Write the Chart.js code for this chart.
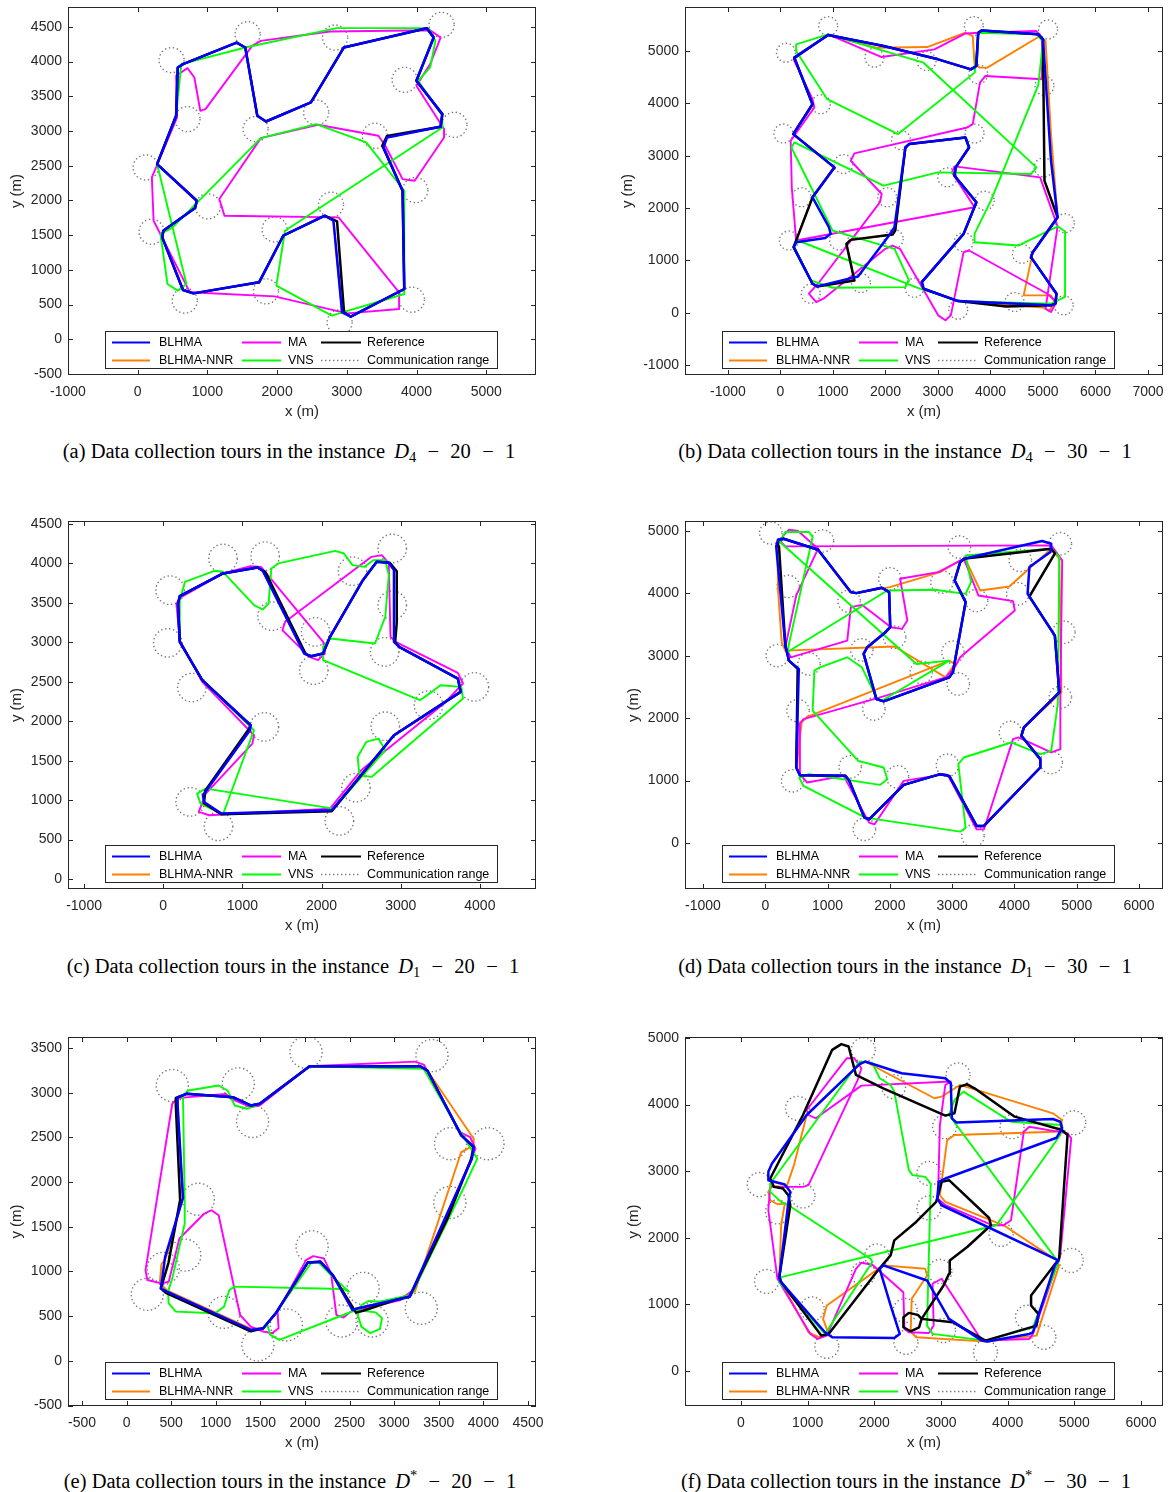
<!DOCTYPE html>
<html>
<head>
<meta charset="utf-8">
<script src="https://cdn.jsdelivr.net/npm/chart.js@4.4.0/dist/chart.umd.min.js"></script>
<style>
body{margin:0;background:#fff;width:1171px;height:1492px;overflow:hidden;position:relative;}
canvas{position:absolute;}
.cap{position:absolute;transform:translate(-50%,-50%);white-space:nowrap;font-family:"Liberation Serif","Times New Roman",serif;font-size:20.5px;color:#000;}
.cap sub{font-size:14.5px;vertical-align:-4px;line-height:0;}
.cap sup{font-size:14.5px;vertical-align:8px;line-height:0;}
.cap .op{margin:0 0.55em;}
.cap i{margin-left:0.2em;}
</style>
</head>
<body>
<canvas id="cA"></canvas><canvas id="cB"></canvas>
<canvas id="cC"></canvas><canvas id="cD"></canvas>
<canvas id="cE"></canvas><canvas id="cF"></canvas>
<div class="cap" style="left:289px;top:451px">(a) Data collection tours in the instance <i>D</i><sub>4</sub><span class="op">&minus;</span>20<span class="op">&minus;</span>1</div>
<div class="cap" style="left:905px;top:451px">(b) Data collection tours in the instance <i>D</i><sub>4</sub><span class="op">&minus;</span>30<span class="op">&minus;</span>1</div>
<div class="cap" style="left:293px;top:966px">(c) Data collection tours in the instance <i>D</i><sub>1</sub><span class="op">&minus;</span>20<span class="op">&minus;</span>1</div>
<div class="cap" style="left:905px;top:966px">(d) Data collection tours in the instance <i>D</i><sub>1</sub><span class="op">&minus;</span>30<span class="op">&minus;</span>1</div>
<div class="cap" style="left:290px;top:1481px">(e) Data collection tours in the instance <i>D</i><sup>*</sup><span class="op">&minus;</span>20<span class="op">&minus;</span>1</div>
<div class="cap" style="left:906px;top:1481px">(f) Data collection tours in the instance <i>D</i><sup>*</sup><span class="op">&minus;</span>30<span class="op">&minus;</span>1</div>
<script>
// ---------- (a) D4-20-1 ----------
var xTicksA = [-1000, 0, 1000, 2000, 3000, 4000, 5000];
var yTicksA = [-500, 0, 500, 1000, 1500, 2000, 2500, 3000, 3500, 4000, 4500];
var xLimA = [-1000, 5714];
var yLimA = [-514, 4787];
var sensorsA = [[1577,4395],[2832,4347],[4360,4530],[486,4021],[3829,3738],[714,3172],[2560,3268],[1691,3028],[3403,2932],[4544,3090],[114,2476],[3983,2150],[1007,1915],[2773,1939],[198,1550],[1964,1583],[675,557],[1840,691],[3934,571],[2897,245]];
var blhmaA = [[650,3964],[1419,4275],[1543,4203],[1716,3220],[1840,3138],[2485,3412],[2956,4203],[4147,4482],[4246,4347],[3998,3724],[4370,3244],[4345,3061],[3576,2908],[3527,2764],[3800,2140],[3824,725],[3056,326],[2932,389],[2808,1708],[2684,1780],[2088,1492],[1741,821],[799,662],[650,710],[352,1468],[367,1564],[823,1891],[848,1996],[278,2524],[551,3220],[575,3916]];
var nnrA = blhmaA;
var refA = [[650,3964],[1419,4275],[1543,4203],[1716,3220],[1840,3138],[2485,3412],[2956,4203],[4147,4482],[4246,4347],[3998,3724],[4370,3244],[4345,3061],[3576,2930],[3510,2790],[3800,2140],[3824,725],[3056,326],[2960,390],[2860,1700],[2684,1780],[2088,1492],[1741,821],[799,662],[650,710],[352,1468],[367,1564],[823,1891],[848,1996],[278,2524],[551,3220],[575,3916]];
var maA = [[1766,4299],[2758,4434],[4196,4453],[4345,4347],[4196,3964],[3998,3652],[4395,3028],[4395,2908],[3973,2284],[3800,2308],[3552,2788],[3452,2932],[2584,3090],[1766,2898],[1171,2020],[1245,1780],[2882,1756],[3750,677],[3750,437],[3006,374],[1964,619],[749,677],[228,1708],[203,2332],[303,2572],[565,3196],[551,3796],[714,3906],[813,3772],[898,3292],[972,3316],[1642,4227]];
var vnsA = [[625,3964],[1543,4203],[2857,4482],[4172,4482],[4271,4299],[4196,3916],[4023,3724],[4370,3220],[4370,3052],[2113,1564],[1989,773],[2783,341],[3824,653],[3824,2140],[3279,2836],[2560,3100],[1766,2898],[501,1612],[327,1516],[427,797],[575,701],[699,797],[278,2524],[551,3220]];

// ---------- (b) D4-30-1 ----------
var xTicksB = [-1000, 0, 1000, 2000, 3000, 4000, 5000, 6000, 7000];
var yTicksB = [-1000, 0, 1000, 2000, 3000, 4000, 5000];
var xLimB = [-1819, 7286];
var yLimB = [-1191, 5841];
var sensorsB = [[908,5476],[104,4968],[1789,4873],[2781,4809],[3682,5476],[5097,5413],[3766,4555],[5028,4333],[770,3983],[55,3424],[2295,3297],[3696,3424],[1200,2840],[3176,2586],[5014,2776],[402,2205],[2032,2205],[3890,2141],[159,1379],[1117,1379],[2157,1410],[3488,1347],[4598,1125],[5416,1709],[576,362],[1533,565],[2552,476],[3384,57],[4459,203],[5395,140]];
var blhmaB = [[264,4873],[908,5305],[1963,5095],[3003,4841],[3627,4650],[3731,4714],[3766,5349],[3835,5394],[4910,5318],[5000,5222],[5153,2903],[5278,1823],[4806,1156],[4771,1061],[5257,362],[5236,172],[5153,140],[3384,222],[2725,457],[2691,584],[3488,1506],[3731,2109],[3315,2617],[3336,2776],[3592,3157],[3523,3348],[2448,3221],[2379,3157],[2171,1633],[2067,1474],[1477,692],[700,502],[610,553],[250,1252],[298,1347],[853,1429],[957,1506],[922,1633],[610,2204],[1026,2776],[243,3412],[610,3983]];
var nnrB = [[264,4873],[908,5305],[1824,5063],[2795,5076],[3523,5349],[3662,5286],[3696,4746],[3800,4682],[3939,4682],[4945,5286],[5049,5190],[5153,3412],[5278,1823],[4806,1156],[4632,330],[5153,330],[5222,203],[5118,32],[5000,100],[3384,222],[2725,457],[2691,584],[3488,1506],[3731,2109],[3315,2617],[3336,2776],[3592,3157],[3523,3348],[2448,3221],[2379,3157],[2185,1569],[2136,1493],[1338,1391],[1255,1315],[1408,616],[700,502],[610,553],[250,1252],[610,2204],[1026,2776],[243,3412],[610,3983]];
var refB = [[264,4873],[908,5305],[1963,5095],[3003,4841],[3627,4650],[3731,4714],[3766,5349],[3835,5394],[4910,5318],[5000,5222],[5028,2522],[5278,1823],[4806,1156],[4771,1061],[5257,362],[5236,172],[5153,140],[4300,120],[3384,222],[2725,457],[2691,584],[3488,1506],[3731,2109],[3315,2617],[3336,2776],[3592,3157],[3523,3348],[2448,3221],[2379,3157],[2185,1569],[2136,1493],[1338,1391],[1255,1315],[1408,616],[700,502],[610,553],[250,1252],[610,2204],[1026,2776],[243,3412],[610,3983]];
var maB = [[250,4841],[908,5318],[1928,4885],[2933,5031],[3523,5336],[3800,5349],[4875,5381],[4979,5254],[4979,4460],[3904,4523],[3800,4396],[3662,3602],[3558,3539],[1408,3043],[1338,2903],[1928,2268],[1893,2109],[714,553],[541,362],[680,203],[818,267],[1997,1220],[2136,1283],[2275,1220],[3003,-51],[3142,-146],[3245,-51],[3488,1156],[3592,1188],[5083,362],[5257,203],[5153,13],[5049,76],[5278,1650],[4945,2586],[3315,2795],[3266,2681],[3696,2014],[298,1379],[215,2395],[194,3284],[645,3920],[610,4079]];
var vnsB = [[298,5127],[908,5318],[2725,4777],[4875,2776],[4771,2649],[3003,2681],[1963,2427],[264,3253],[208,3157],[992,1569],[2171,1220],[2448,616],[2379,489],[992,476],[576,616],[264,1252],[333,1379],[2600,480],[3400,220],[5153,172],[5420,300],[5420,1550],[5280,1650],[4529,1283],[3696,1347],[3696,1506],[4008,2141],[4910,4350],[5000,5180],[4875,5318],[3766,5349],[3700,4587],[2240,3412],[889,4079],[298,5000]];

// ---------- (c) D1-20-1 ----------
var xTicksC = [-1000, 0, 1000, 2000, 3000, 4000];
var yTicksC = [0, 500, 1000, 1500, 2000, 2500, 3000, 3500, 4000, 4500];
var xLimC = [-1203, 4709];
var yLimC = [-127, 4538];
var sensorsC = [[755,4063],[1287,4093],[2893,4190],[2391,3902],[87,3661],[1374,3332],[2893,3471],[57,2993],[1924,3133],[2797,2879],[1902,2647],[362,2427],[3931,2435],[3351,2203],[1278,1928],[2805,1936],[2435,1158],[340,977],[698,668],[2225,736]];
var blhmaC = [[209,3585],[755,3873],[1191,3949],[1257,3907],[1780,2858],[1867,2824],[2020,2858],[2107,3070],[2522,3788],[2697,4021],[2849,4008],[2915,3915],[2915,3006],[2980,2943],[3722,2541],[3757,2372],[2915,1822],[2129,871],[733,829],[515,977],[502,1061],[1095,1886],[1104,1949],[493,2520],[209,3006],[187,3492]];
var nnrC = blhmaC;
var refC = [[209,3585],[755,3873],[1191,3949],[1290,3890],[1800,2850],[1867,2824],[2020,2858],[2107,3070],[2522,3788],[2697,4021],[2860,4010],[2950,3900],[2950,3250],[2930,3006],[2980,2943],[3722,2541],[3757,2372],[2915,1822],[2129,860],[733,820],[515,960],[530,1120],[1080,1900],[1104,1949],[493,2520],[209,3006],[187,3492]];
var maC = [[166,3492],[209,3027],[493,2499],[1147,1822],[1126,1717],[537,1082],[449,850],[580,808],[2107,892],[2500,1378],[3547,2224],[3787,2478],[3722,2613],[2936,3006],[2871,3070],[2849,4000],[2762,4105],[2631,4084],[1540,3260],[1505,3154],[1846,2816],[1955,2774],[2042,2858],[2020,3006],[1235,3957],[1104,3966],[755,3873],[231,3577]];
var vnsC = [[209,3535],[275,3767],[646,3907],[755,3894],[1147,3471],[1257,3416],[1331,3492],[1366,3936],[1453,4000],[2173,4160],[2282,4126],[2391,3979],[2544,3957],[2653,4042],[2805,4042],[2849,3852],[2805,3323],[2675,2985],[2107,3048],[2020,2943],[2020,2774],[3242,2266],[3394,2372],[3503,2456],[3765,2435],[3787,2287],[2631,1294],[2478,1315],[2456,1547],[2565,1738],[2718,1780],[2805,1632],[2151,892],[537,1146],[428,1082],[471,956],[755,820],[1147,1886],[493,2520],[209,3006]];

// ---------- (d) D1-30-1 ----------
var xTicksD = [-1000, 0, 1000, 2000, 3000, 4000, 5000, 6000];
var yTicksD = [0, 1000, 2000, 3000, 4000, 5000];
var xLimD = [-1289, 6385];
var yLimD = [-737, 5160];
var sensorsD = [[88,4968],[918,4839],[3117,4743],[4737,4796],[368,4111],[2000,4234],[4094,4529],[1345,3876],[2836,4181],[4053,3993],[3392,3886],[2076,3297],[4795,3378],[193,3003],[702,2869],[1550,3094],[3012,3057],[4737,2334],[3099,2548],[526,2120],[1743,2147],[3936,1772],[4591,1290],[1363,1220],[2123,1060],[2924,1247],[439,996],[1591,219],[3333,112],[2503,2735]];
var blhmaD = [[205,4859],[293,4876],[848,4700],[1374,4020],[1462,4004],[1871,4090],[1988,4020],[2006,3458],[1930,3378],[1637,3137],[1579,3030],[1784,2307],[1900,2270],[2953,2655],[3012,2735],[3216,3860],[3041,4207],[3129,4502],[3187,4555],[4444,4839],[4591,4796],[4579,4663],[4240,4422],[4211,3993],[4649,3324],[4720,2414],[4152,1852],[4111,1718],[4415,1344],[4415,1210],[3509,273],[3392,273],[2953,1076],[2807,1103],[2222,931],[1667,380],[1591,407],[1345,1006],[1286,1076],[556,1087],[497,1210],[538,2789],[380,2923],[322,3164],[175,4754]];
var refD = [[205,4859],[293,4876],[848,4700],[1374,4020],[1462,4004],[1871,4090],[1988,4020],[2006,3458],[1930,3378],[1637,3137],[1579,3030],[1784,2307],[1900,2270],[2953,2655],[3012,2735],[3216,3860],[3041,4207],[3129,4502],[3216,4560],[4591,4716],[4650,4640],[4240,3950],[4649,3324],[4720,2414],[4152,1852],[4111,1718],[4415,1344],[4415,1210],[3509,273],[3392,273],[2953,1076],[2807,1103],[2222,931],[1667,380],[1591,407],[1345,1006],[1286,1076],[556,1087],[497,1210],[520,2789],[380,2923],[322,3164],[220,4754]];
var nnrD = [[293,4876],[848,4700],[1374,4020],[1462,4004],[2000,4100],[2807,4341],[3129,4529],[3216,4539],[3450,4047],[3918,4111],[4591,4716],[4720,4555],[4754,2414],[4152,1852],[4111,1718],[4415,1344],[4415,1210],[3509,273],[3392,273],[2953,1076],[2807,1103],[2222,931],[1667,380],[1591,407],[1345,1006],[1286,1076],[556,1087],[497,1210],[585,1932],[673,2023],[2953,2923],[3041,2869],[2895,2655],[2076,3148],[322,3083],[263,3217],[205,4047],[193,4796]];
var maD = [[293,4930],[380,5021],[526,5000],[848,4716],[497,3967],[322,3137],[409,2976],[1316,3244],[1374,3779],[1550,3817],[2018,3458],[2193,3431],[2281,3565],[2164,4234],[2778,4341],[3187,4555],[3421,3967],[3977,3876],[4006,3726],[3129,2976],[3041,2816],[2895,2655],[1842,2334],[614,1986],[544,1906],[556,1103],[673,969],[1257,1076],[1667,327],[1754,300],[2222,996],[2895,1103],[2953,1049],[3392,219],[3509,219],[3538,300],[3977,1665],[4064,1692],[4591,1451],[4737,1504],[4737,2280],[4766,4529],[4591,4770],[322,4753],[251,4823]];
var vnsD = [[234,4823],[322,4984],[702,4984],[760,4903],[380,3190],[351,3057],[1959,4047],[2719,4058],[3216,3993],[3304,4181],[3216,4609],[4591,4716],[4720,4582],[4696,2227],[4591,1477],[4415,1424],[3947,1611],[3187,1370],[3099,1263],[3216,246],[3129,182],[1608,407],[614,915],[544,1049],[702,1103],[1842,931],[1959,1022],[1900,1210],[1491,1317],[760,2120],[789,2762],[877,2816],[1316,2976],[1550,2816],[1784,2334],[1871,2280],[2953,2923],[2427,2869]];

// ---------- (e) D*-20-1 ----------
var xTicksE = [-500, 0, 500, 1000, 1500, 2000, 2500, 3000, 3500, 4000, 4500];
var yTicksE = [-500, 0, 500, 1000, 1500, 2000, 2500, 3000, 3500];
var xLimE = [-657, 4590];
var yLimE = [-505, 3623];
var sensorsE = [[512,3080],[1252,3099],[2012,3452],[3424,3415],[1412,2678],[3632,2429],[4052,2429],[3624,1771],[804,1808],[652,1183],[2080,1276],[412,1034],[232,744],[2652,811],[1092,543],[1792,402],[2412,446],[2752,446],[3304,588],[1472,179]];
var blhmaE = [[572,2950],[672,2987],[1192,2950],[1392,2857],[1492,2876],[2052,3296],[3292,3296],[3372,3248],[3752,2522],[3892,2392],[3872,2262],[3172,718],[3012,681],[2592,588],[2532,569],[2312,960],[2172,1109],[2032,1101],[1672,532],[1532,365],[1392,346],[452,774],[384,811],[432,1164],[632,1823],[572,2857]];
var nnrE = [[572,2950],[672,2987],[1192,2950],[1392,2857],[1492,2876],[2052,3296],[3292,3296],[3372,3248],[3892,2485],[3892,2410],[3752,2336],[3232,774],[3012,681],[2592,588],[2532,569],[2312,960],[2172,1109],[2032,1101],[1672,532],[1532,365],[1392,360],[452,790],[372,870],[390,1080],[440,1150],[632,1823],[572,2857]];
var refE = [[552,2940],[672,2987],[1192,2950],[1392,2857],[1492,2876],[2052,3296],[3292,3296],[3372,3248],[3752,2522],[3892,2392],[3860,2250],[3600,1600],[3172,718],[3012,681],[2652,560],[2572,540],[2312,960],[2172,1109],[2032,1101],[1672,532],[1532,365],[1392,330],[440,760],[384,811],[470,1100],[600,1800],[552,2857]];
var maE = [[512,2876],[572,2939],[1112,2987],[1172,2931],[1392,2838],[1492,2857],[2052,3296],[3232,3348],[3332,3315],[3732,2559],[3852,2504],[3912,2373],[3232,811],[3072,681],[2512,551],[2432,484],[2352,513],[2292,978],[2212,1146],[2092,1172],[2012,1127],[1692,551],[1704,365],[1632,309],[1532,327],[1392,383],[1272,513],[1032,1629],[952,1685],[872,1648],[592,1369],[472,885],[392,867],[232,904],[212,1016]];
var vnsE = [[632,2969],[692,3024],[1032,3080],[1132,3024],[1212,2857],[1352,2820],[1492,2876],[2052,3296],[3332,3266],[3672,2671],[3792,2485],[3932,2262],[3792,1964],[3192,737],[2832,662],[2712,670],[2632,625],[2592,513],[2632,383],[2732,309],[2840,357],[2864,476],[2792,543],[2572,569],[1712,234],[1612,290],[1572,420],[1672,532],[2072,1101],[2152,1101],[2312,941],[2492,774],[2432,804],[1212,830],[1152,792],[1092,606],[992,532],[552,551],[472,644],[464,774],[512,923],[652,1536],[652,1741]];

// ---------- (f) D*-30-1 ----------
var xTicksF = [0, 1000, 2000, 3000, 4000, 5000, 6000];
var yTicksF = [0, 1000, 2000, 3000, 4000, 5000];
var xLimF = [-840, 6330];
var yLimF = [-525, 5015];
var sensorsF = [[1833,4822],[3256,4446],[848,3944],[2288,4270],[4066,3668],[4991,3728],[3054,3668],[2819,2966],[274,2800],[930,2629],[547,2388],[2819,2449],[3902,2052],[2036,1726],[2983,1495],[383,1345],[4953,1661],[1067,933],[2463,908],[4296,808],[1286,371],[2474,432],[3038,607],[4543,507],[3667,281],[1833,1460]];
var blhmaF = [[410,2991],[410,2865],[657,2800],[739,2690],[711,2539],[575,1410],[602,1335],[1259,582],[1368,507],[2299,497],[2381,557],[2244,984],[2080,1535],[2134,1586],[2791,1360],[3120,783],[3612,457],[3694,442],[4324,557],[4378,582],[4707,1586],[4761,1661],[3010,2489],[2944,2589],[2966,2840],[3065,2890],[4734,3503],[4816,3643],[4789,3743],[4679,3784],[3229,3733],[3163,3794],[3147,4321],[3065,4396],[2408,4471],[1861,4647],[1779,4607],[985,3844],[465,3116]];
var nnrF = [[985,3844],[1779,4607],[1861,4647],[2901,4095],[3010,4120],[3284,4295],[4679,3869],[4816,3768],[4789,3643],[4707,3593],[3202,3543],[3092,3467],[2983,2639],[3065,2539],[3941,2188],[4734,1661],[4772,1586],[4433,532],[3694,442],[2627,507],[2545,592],[2561,1084],[2791,1435],[2764,1536],[2134,1586],[1286,984],[1231,783],[1314,557],[1177,507],[1012,582],[575,1385],[602,2188],[657,2514],[547,2504],[438,2564],[410,2690],[465,2780],[684,2765],[794,3091]];
var refF = [[438,2890],[930,3844],[1368,4822],[1505,4908],[1614,4873],[1724,4446],[2134,4245],[3065,3834],[3202,3869],[3284,4270],[3393,4305],[3503,4245],[4105,3819],[4816,3618],[4898,3543],[4772,1686],[4351,1134],[4351,984],[4460,858],[4433,682],[3667,457],[3174,733],[2709,783],[2654,843],[2518,873],[2436,808],[2436,657],[2545,597],[2671,657],[2709,783],[3038,1285],[3120,1460],[3131,1661],[3393,1862],[3749,2188],[3722,2298],[3120,2865],[3010,2840],[2928,2539],[2627,2238],[2299,1962],[2244,1736],[2052,1510],[1314,557],[1204,532],[602,1335],[575,1410],[739,2489],[711,2639],[629,2740],[493,2765]];
var maF = [[410,2414],[547,1385],[1040,557],[1149,482],[1286,532],[1724,1535],[1806,1626],[1970,1596],[2435,1184],[2452,632],[2518,582],[2819,572],[2890,682],[2873,1310],[3010,1385],[3612,457],[4324,482],[4378,557],[4789,1736],[4953,3493],[4898,3568],[4324,3668],[4242,3593],[4050,2263],[3941,2188],[3776,2188],[3065,2489],[2955,2589],[2983,3693],[3065,4295],[3147,4346],[1806,4285],[1122,3794],[1012,3844],[985,3919],[1587,4697],[1697,4697],[1806,4546],[1751,4371],[1012,2790],[930,2765],[438,2765]];
var vnsF = [[438,2815],[1779,4647],[1970,4622],[2080,4396],[2244,4295],[2299,4195],[2518,3016],[2572,2941],[2764,2915],[2846,2815],[2791,682],[2873,557],[3667,457],[4378,657],[4761,1636],[3120,3844],[3202,4070],[3338,4195],[4050,3743],[4816,3693],[4789,3543],[3831,2188],[602,1410],[575,1335],[1259,557],[1970,1636],[1943,1686],[711,2489],[602,2539],[438,2690]];

var commRange = 180;
var legendNames = ['BLHMA', 'BLHMA-NNR', 'MA', 'VNS', 'Reference', 'Communication range'];

var axisColor = '#262626';
var fontFam = '"Liberation Sans", Arial, Helvetica, sans-serif';

// convertit [[x,y],...] en points fermés {x,y}
function toLoop(arr)
{
    var pts = arr.map(function(p){ return {x:p[0], y:p[1]}; });
    pts.push({x:arr[0][0], y:arr[0][1]});
    return pts;
}

function makeFrame(sensors)
{
    return {
        id: 'frame',
        beforeDatasetsDraw: function(chart)
        {
            var ctx = chart.ctx, xs = chart.scales.x, ys = chart.scales.y, a = chart.chartArea;
            ctx.save();
            ctx.beginPath();
            ctx.rect(a.left, a.top, a.right - a.left, a.bottom - a.top);
            ctx.clip();
            ctx.strokeStyle = '#7a7a7a';
            ctx.lineWidth = 1.4;
            ctx.setLineDash([1.4, 2.6]);
            sensors.forEach(function(s)
            {
                var cx = xs.getPixelForValue(s[0]);
                var cy = ys.getPixelForValue(s[1]);
                var r = xs.getPixelForValue(s[0] + commRange) - cx;
                ctx.beginPath();
                ctx.arc(cx, cy, r, 0, Math.PI * 2);
                ctx.stroke();
            });
            ctx.restore();
        },
        afterDraw: function(chart)
        {
            var ctx = chart.ctx, xs = chart.scales.x, ys = chart.scales.y, a = chart.chartArea;
            ctx.save();
            // petites graduations à l'intérieur, sur les quatre côtés
            ctx.strokeStyle = axisColor;
            ctx.lineWidth = 1;
            xs.ticks.forEach(function(t)
            {
                var px = Math.round(xs.getPixelForValue(t.value)) + 0.5;
                ctx.beginPath();
                ctx.moveTo(px, a.bottom); ctx.lineTo(px, a.bottom - 5);
                ctx.moveTo(px, a.top); ctx.lineTo(px, a.top + 5);
                ctx.stroke();
            });
            ys.ticks.forEach(function(t)
            {
                var py = Math.round(ys.getPixelForValue(t.value)) + 0.5;
                ctx.beginPath();
                ctx.moveTo(a.left, py); ctx.lineTo(a.left + 5, py);
                ctx.moveTo(a.right, py); ctx.lineTo(a.right - 5, py);
                ctx.stroke();
            });
            ctx.strokeRect(a.left + 0.5, a.top + 0.5, a.right - a.left - 1, a.bottom - a.top - 1);

            // légende
            var lw = 392, lh = 37;
            var lx = a.left + 37, ly = a.bottom - 7 - lh;
            ctx.fillStyle = '#fff';
            ctx.fillRect(lx, ly, lw, lh);
            ctx.strokeStyle = axisColor;
            ctx.lineWidth = 1;
            ctx.strokeRect(lx + 0.5, ly + 0.5, lw, lh);
            var colLine = [[7, 45], [137, 176], [216, 256]];
            var colText = [54, 183, 262];
            var rowY = [11, 29];
            var ds = chart.data.datasets;
            var entries = [
                [0, 0, ds[0]], [0, 1, ds[1]], [1, 0, ds[2]],
                [1, 1, ds[3]], [2, 0, ds[4]], [2, 1, null]
            ];
            ctx.font = '12.5px ' + fontFam;
            ctx.textBaseline = 'middle';
            entries.forEach(function(e, i)
            {
                var y = ly + rowY[e[1]] + 0.5;
                ctx.beginPath();
                ctx.moveTo(lx + colLine[e[0]][0], y);
                ctx.lineTo(lx + colLine[e[0]][1], y);
                if (e[2])
                {
                    ctx.setLineDash([]);
                    ctx.strokeStyle = e[2].borderColor;
                    ctx.lineWidth = 2;
                }
                else
                {
                    ctx.setLineDash([1.4, 2.6]);
                    ctx.strokeStyle = '#7a7a7a';
                    ctx.lineWidth = 1.4;
                }
                ctx.stroke();
                ctx.fillStyle = '#000';
                ctx.fillText(legendNames[i], lx + colText[e[0]], y + 0.5);
            });
            ctx.restore();
        }
    };
}

function lineSet(label, pts, color, width, order)
{
    return {
        label: label,
        data: toLoop(pts),
        showLine: true,
        borderColor: color,
        backgroundColor: color,
        borderWidth: width,
        pointRadius: 0,
        pointHoverRadius: 0,
        fill: false,
        tension: 0,
        borderJoinStyle: 'round',
        borderCapStyle: 'round',
        order: order
    };
}

function noPad(s)
{
    s.paddingTop = 0;
    s.paddingBottom = 0;
    s.paddingLeft = 0;
    s.paddingRight = 0;
}

// box = [left, top, right, bottom] des axes en pixels de la page
function DessinerTours(id, box, d, yTitlePad)
{
    var canvas = document.getElementById(id);
    var w = box[2] - box[0] + 76;
    var h = box[3] - box[1] + 59;
    canvas.width = w;
    canvas.height = h;
    canvas.style.left = (box[0] - 68) + 'px';
    canvas.style.top = (box[1] - 7) + 'px';
    canvas.style.width = w + 'px';
    canvas.style.height = h + 'px';

    new Chart(canvas, {
        type: 'scatter',
        data: {
            datasets: [
                lineSet('BLHMA', d.blhma, '#0000ff', 2.5, 0),
                lineSet('BLHMA-NNR', d.nnr, '#ff8000', 1.9, 4),
                lineSet('MA', d.ma, '#ff00ff', 1.9, 3),
                lineSet('VNS', d.vns, '#00ff00', 1.9, 2),
                lineSet('Reference', d.ref, '#000000', 2.5, 1)
            ]
        },
        options: {
            responsive: false,
            animation: false,
            devicePixelRatio: 1,
            events: [],
            layout: { padding: { left: 0, top: 7, right: 8, bottom: 0 } },
            plugins: {
                legend: { display: false },
                tooltip: { enabled: false }
            },
            scales: {
                x: {
                    type: 'linear',
                    min: d.xLim[0],
                    max: d.xLim[1],
                    grid: { display: false, drawTicks: false },
                    border: { display: false },
                    afterBuildTicks: function(s){ s.ticks = d.xTicks.map(function(v){ return {value:v}; }); },
                    afterFit: function(s){ s.height = 52; noPad(s); },
                    ticks: {
                        color: axisColor,
                        font: { size: 14, family: fontFam },
                        padding: 9,
                        maxRotation: 0,
                        autoSkip: false,
                        callback: function(v){ return String(v); }
                    },
                    title: {
                        display: true,
                        text: 'x (m)',
                        color: axisColor,
                        font: { size: 15, family: fontFam },
                        padding: { top: 0, bottom: 6 }
                    }
                },
                y: {
                    type: 'linear',
                    min: d.yLim[0],
                    max: d.yLim[1],
                    grid: { display: false, drawTicks: false },
                    border: { display: false },
                    afterBuildTicks: function(s){ s.ticks = d.yTicks.map(function(v){ return {value:v}; }); },
                    afterFit: function(s){ s.width = 68; noPad(s); },
                    ticks: {
                        color: axisColor,
                        font: { size: 14, family: fontFam },
                        padding: 6,
                        autoSkip: false,
                        callback: function(v){ return String(v); }
                    },
                    title: {
                        display: true,
                        text: 'y (m)',
                        color: axisColor,
                        font: { size: 15, family: fontFam },
                        padding: { top: yTitlePad, bottom: 0 }
                    }
                }
            }
        },
        plugins: [makeFrame(d.sensors)]
    });
}

DessinerTours('cA', [68, 7, 536, 375], {xTicks:xTicksA, yTicks:yTicksA, xLim:xLimA, yLim:yLimA, sensors:sensorsA, blhma:blhmaA, nnr:nnrA, ma:maA, vns:vnsA, ref:refA}, 8);
DessinerTours('cB', [685, 7, 1163, 375], {xTicks:xTicksB, yTicks:yTicksB, xLim:xLimB, yLim:yLimB, sensors:sensorsB, blhma:blhmaB, nnr:nnrB, ma:maB, vns:vnsB, ref:refB}, 2);
DessinerTours('cC', [68, 521, 536, 889], {xTicks:xTicksC, yTicks:yTicksC, xLim:xLimC, yLim:yLimC, sensors:sensorsC, blhma:blhmaC, nnr:nnrC, ma:maC, vns:vnsC, ref:refC}, 8);
DessinerTours('cD', [685, 521, 1163, 889], {xTicks:xTicksD, yTicks:yTicksD, xLim:xLimD, yLim:yLimD, sensors:sensorsD, blhma:blhmaD, nnr:nnrD, ma:maD, vns:vnsD, ref:refD}, 8);
DessinerTours('cE', [68, 1037, 536, 1406], {xTicks:xTicksE, yTicks:yTicksE, xLim:xLimE, yLim:yLimE, sensors:sensorsE, blhma:blhmaE, nnr:nnrE, ma:maE, vns:vnsE, ref:refE}, 8);
DessinerTours('cF', [685, 1037, 1163, 1406], {xTicks:xTicksF, yTicks:yTicksF, xLim:xLimF, yLim:yLimF, sensors:sensorsF, blhma:blhmaF, nnr:nnrF, ma:maF, vns:vnsF, ref:refF}, 8);
</script>
</body>
</html>
